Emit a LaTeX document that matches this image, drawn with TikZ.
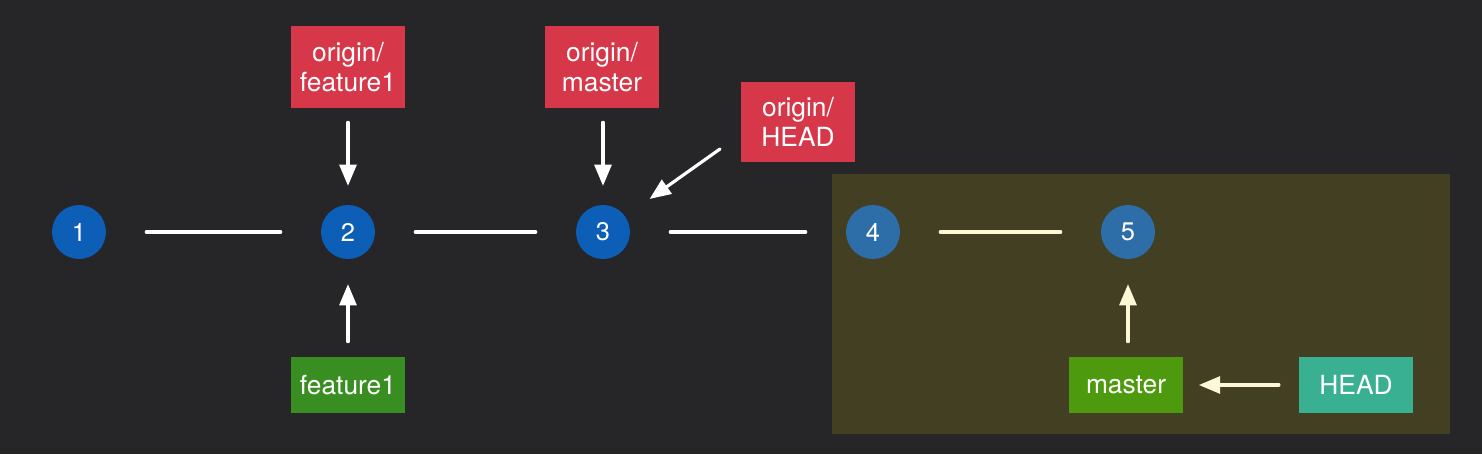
\documentclass[tikz,border=0pt]{standalone}
\usepackage{fontspec}
\setmainfont{TeX Gyre Heros}
\usetikzlibrary{arrows}
\definecolor{bgcol}{RGB}{38,38,40}
\definecolor{newcol}{RGB}{67,63,34}
\definecolor{commitblue}{RGB}{12,94,183}
\definecolor{newblue}{RGB}{46,110,168}
\definecolor{remotered}{RGB}{214,56,74}
\definecolor{branchgreen}{RGB}{57,142,33}
\definecolor{mastergreen}{RGB}{78,154,14}
\definecolor{headteal}{RGB}{58,176,146}
\definecolor{cream}{RGB}{255,248,215}

\begin{document}
\begin{tikzpicture}[line cap=round,line join=round,>=triangle 45,x=0.02cm,y=0.02cm,
        commit/.style={circle,fill=commitblue,minimum size=1.08cm,inner sep=0pt,text=white,font=\fontsize{14.5}{16}\selectfont},
        refbox/.style={rectangle,inner sep=0pt,minimum width=2.27cm,text=white,align=center,font=\fontsize{15}{17}\selectfont},
        link/.style={line width=1.9pt,shorten <=0.8cm,shorten >=0.8cm},
        ptr/.style={->,line width=1.8pt}]
        \fill [bgcol] (0,0) rectangle (1482,454);
        \fill [newcol] (832,20) rectangle (1450,280);
        % commits
        \node [commit] (c1) at (79,222) {1};
        \node [commit] (c2) at (348,222) {2};
        \node [commit] (c3) at (603,222) {3};
        \node [commit,fill=newblue] (c4) at (873,222) {4};
        \node [commit,fill=newblue] (c5) at (1128,222) {5};
        % refs
        \node [refbox,fill=remotered,minimum height=1.64cm] (ofeat) at (348,387) {origin/\\feature1};
        \node [refbox,fill=remotered,minimum height=1.64cm] (omaster) at (602,387) {origin/\\master};
        \node [refbox,fill=remotered,minimum height=1.62cm,minimum width=2.3cm] (ohead) at (798,332) {origin/\\HEAD};
        \node [refbox,fill=branchgreen,minimum height=1.12cm] (feat) at (348,69) {feature1};
        \node [refbox,fill=mastergreen,minimum height=1.12cm] (master) at (1126,69) {master};
        \node [refbox,fill=headteal,minimum height=1.12cm] (head) at (1356,69) {HEAD};
        \coordinate (hstart) at (720,305);
        % history
        \draw [link,white] (c1) -- (c2);
        \draw [link,white] (c2) -- (c3);
        \draw [link,white] (c3) -- (c4);
        \draw [link,cream] (c4) -- (c5);
        % pointers
        \draw [ptr,white,shorten <=0.28cm,shorten >=0.38cm] (ofeat) -- (c2);
        \draw [ptr,white,shorten <=0.28cm,shorten >=0.38cm] (omaster.south -| c3) -- (c3);
        \draw [ptr,white,shorten >=0.6cm] (hstart) -- (c3);
        \draw [ptr,white,shorten <=0.3cm,shorten >=0.5cm] (feat) -- (c2);
        \draw [ptr,cream,shorten <=0.3cm,shorten >=0.5cm] (master.north -| c5) -- (c5);
        \draw [ptr,cream,shorten <=0.4cm,shorten >=0.32cm] (head) -- (master);
\end{tikzpicture}
\end{document}
